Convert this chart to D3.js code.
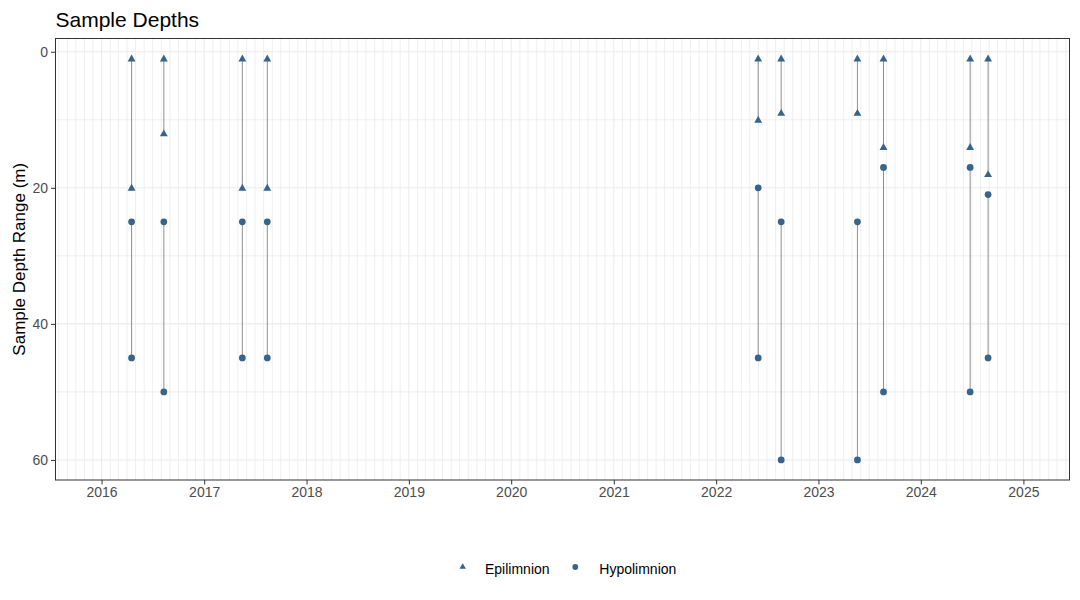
<!DOCTYPE html>
<html><head><meta charset="utf-8">
<script src="https://cdn.jsdelivr.net/npm/d3@7"></script>
<style>
body{margin:0;background:#fff;}
svg{display:block;font-family:"Liberation Sans",Arial,sans-serif;}
</style></head>
<body>
<svg id="chart" width="1080" height="600"></svg>
<script>
const sampleDates = ["2016-04-17","2016-08-10","2017-05-17","2017-08-14","2022-05-31","2022-08-21","2023-05-20","2023-08-21","2024-06-25","2024-08-28"];
const epiTop      = [1, 1, 1, 1, 1, 1, 1, 1, 1, 1];
const epiBottom   = [20, 12, 20, 20, 10, 9, 9, 14, 14, 18];
const hypoTop     = [25, 25, 25, 25, 20, 25, 25, 17, 17, 21];
const hypoBottom  = [45, 50, 45, 45, 45, 60, 60, 50, 50, 45];
const yTicks = [0, 20, 40, 60];
const yMinor = [10, 30, 50];
const xLimits = ["2016-01-01", "2025-01-01"];
const seriesNames = ["Epilimnion", "Hypolimnion"];

const svg = d3.select("#chart");
const P = {left: 55.5, right: 1069.5, top: 38.5, bottom: 480};
const parse = d3.utcParse("%Y-%m-%d");
const lim = xLimits.map(parse);
const span = lim[1] - lim[0];
const x = d3.scaleUtc()
  .domain([new Date(+lim[0] - 0.05 * span), new Date(+lim[1] + 0.05 * span)])
  .range([P.left, P.right]);
const yMin = 1, yMax = 60, yExp = (yMax - yMin) * 0.05;
const y = d3.scaleLinear().domain([yMin - yExp, yMax + yExp]).range([P.top, P.bottom]);

const pointColor = "#36648B";
const segColor = "#8f8f8f";
const gridColor = "#EBEBEB";

// grid
const g = svg.append("g");
const months = d3.utcMonth.range(x.domain()[0], x.domain()[1]);
g.selectAll(".vminor").data(months.filter(d => d.getUTCMonth() !== 0)).join("line")
  .attr("x1", d => x(d)).attr("x2", d => x(d)).attr("y1", P.top).attr("y2", P.bottom)
  .attr("stroke", gridColor).attr("stroke-width", 0.8);
g.selectAll(".hminor").data(yMinor).join("line")
  .attr("x1", P.left).attr("x2", P.right).attr("y1", d => y(d)).attr("y2", d => y(d))
  .attr("stroke", gridColor).attr("stroke-width", 0.8);
const years = d3.utcYear.range(x.domain()[0], x.domain()[1]);
g.selectAll(".vmajor").data(years).join("line")
  .attr("x1", d => x(d)).attr("x2", d => x(d)).attr("y1", P.top).attr("y2", P.bottom)
  .attr("stroke", gridColor).attr("stroke-width", 1.1);
g.selectAll(".hmajor").data(yTicks).join("line")
  .attr("x1", P.left).attr("x2", P.right).attr("y1", d => y(d)).attr("y2", d => y(d))
  .attr("stroke", gridColor).attr("stroke-width", 1.1);

// data
const rows = sampleDates.map((d, i) => ({date: parse(d), et: epiTop[i], eb: epiBottom[i], ht: hypoTop[i], hb: hypoBottom[i]}));
const segs = [];
rows.forEach(r => { segs.push({date: r.date, a: r.et, b: r.eb}); segs.push({date: r.date, a: r.ht, b: r.hb}); });
svg.append("g").selectAll("line").data(segs).join("line")
  .attr("x1", d => x(d.date)).attr("x2", d => x(d.date))
  .attr("y1", d => y(d.a)).attr("y2", d => y(d.b))
  .attr("stroke", segColor).attr("stroke-width", 1);

const tri = d3.symbol().type(d3.symbolTriangle).size(27);
const circ = d3.symbol().type(d3.symbolCircle).size(36);
const epiPts = [], hypoPts = [];
rows.forEach(r => { epiPts.push({date: r.date, v: r.et}, {date: r.date, v: r.eb}); hypoPts.push({date: r.date, v: r.ht}, {date: r.date, v: r.hb}); });
svg.append("g").selectAll("path").data(epiPts).join("path")
  .attr("d", tri).attr("transform", d => `translate(${x(d.date)},${y(d.v) + 0.6})`).attr("fill", pointColor);
svg.append("g").selectAll("path").data(hypoPts).join("path")
  .attr("d", circ).attr("transform", d => `translate(${x(d.date)},${y(d.v)})`).attr("fill", pointColor);

// panel border
svg.append("rect").attr("x", P.left).attr("y", P.top).attr("width", P.right - P.left).attr("height", P.bottom - P.top)
  .attr("fill", "none").attr("stroke", "#333333").attr("stroke-width", 1);

// axes
const yAxis = d3.axisLeft(y).tickValues(yTicks).tickSize(4.5).tickPadding(3);
const ya = svg.append("g").attr("transform", `translate(${P.left},0)`).call(yAxis);
ya.select(".domain").remove();
ya.selectAll(".tick line").attr("stroke", "#333333");
ya.selectAll(".tick text").attr("fill", "#4D4D4D").attr("font-size", 14).attr("font-family", "Liberation Sans, Arial, sans-serif");

const xAxis = d3.axisBottom(x).tickValues(years).tickFormat(d3.utcFormat("%Y")).tickSize(4.5).tickPadding(3);
const xa = svg.append("g").attr("transform", `translate(0,${P.bottom})`).call(xAxis);
xa.select(".domain").remove();
xa.selectAll(".tick line").attr("stroke", "#333333");
xa.selectAll(".tick text").attr("fill", "#4D4D4D").attr("font-size", 14).attr("font-family", "Liberation Sans, Arial, sans-serif");

// titles
svg.append("text").attr("x", 55.5).attr("y", 26.7).attr("font-size", 21).attr("fill", "#000").text("Sample Depths");
svg.append("text").attr("transform", `translate(24.5,${(P.top + P.bottom) / 2}) rotate(-90)`)
  .attr("text-anchor", "middle").attr("font-size", 17).attr("fill", "#000").text("Sample Depth Range (m)");

// legend
const leg = svg.append("g");
const legTri = d3.symbol().type(d3.symbolTriangle).size(18);
const legCirc = d3.symbol().type(d3.symbolCircle).size(26);
leg.append("path").attr("d", legTri).attr("transform", "translate(462.7,567)").attr("fill", pointColor);
leg.append("text").attr("x", 485).attr("y", 573.5).attr("font-size", 14).attr("fill", "#000").text(seriesNames[0]);
leg.append("path").attr("d", legCirc).attr("transform", "translate(575.3,567)").attr("fill", pointColor);
leg.append("text").attr("x", 599.3).attr("y", 573.5).attr("font-size", 14).attr("fill", "#000").text(seriesNames[1]);
</script>
</body></html>
